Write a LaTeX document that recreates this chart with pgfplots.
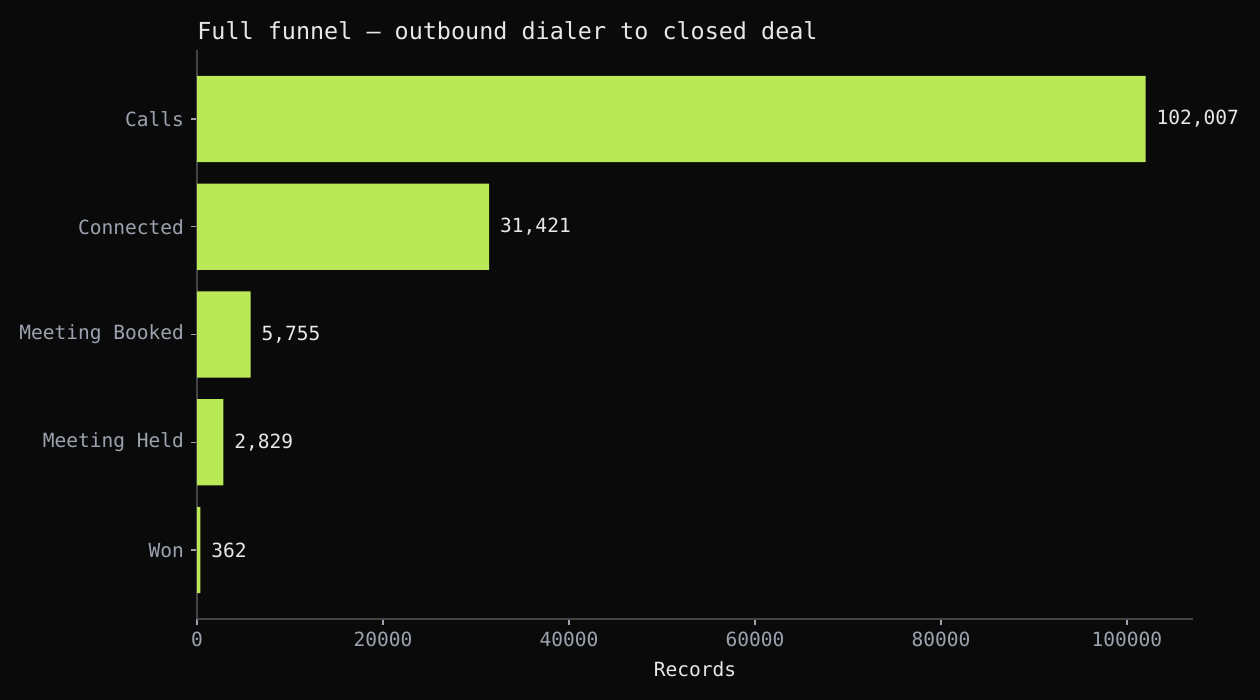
\documentclass[border=0pt]{standalone}
\usepackage{fontspec}
\setmainfont{DejaVu Sans Mono}
\usepackage{pgfplots}
\pgfplotsset{compat=1.18}
\definecolor{bg}{HTML}{0A0A0A}
\definecolor{barc}{HTML}{B9E957}
\definecolor{spine}{HTML}{444444}
\definecolor{ticklab}{HTML}{9CA3AF}
\definecolor{txt}{HTML}{E8E8E8}
\begin{document}
\begin{tikzpicture}
\fill[bg] (0,0) rectangle (630bp,350bp);
\begin{axis}[
  at={(98.5bp,40.5bp)}, anchor=south west,
  scale only axis, width=498bp, height=284.5bp,
  /pgf/number format/assume math mode=true,
  xbar, bar width=0.8,
  xmin=0, xmax=107107, ymin=-0.64, ymax=4.64,
  axis x line*=bottom, axis y line*=left,
  x axis line style={-, spine, line width=0.8pt},
  y axis line style={-, spine, line width=0.8pt},
  ytick={0,1,2,3,4},
  yticklabels={Won,Meeting Held,Meeting Booked,Connected,Calls},
  xtick={0,20000,40000,60000,80000,100000},
  scaled ticks=false,
  xticklabel style={/pgf/number format/.cd, fixed, 1000 sep={}},
  tick align=outside, major tick length=3bp,
  tick style={ticklab, line width=0.6pt},
  ticklabel style={text=ticklab, font=\fontsize{9.8}{12}\selectfont},
  xlabel={Records},
  xlabel style={text=txt, font=\fontsize{9.8}{12}\selectfont, yshift=-0.5bp},
  title={Full funnel — outbound dialer to closed deal},
  title style={at={(axis description cs:0,1)}, anchor=base west, yshift=-0.5bp, text=txt, font=\fontsize{11.75}{14}\selectfont, inner sep=0pt},
  nodes near coords={\pgfmathprintnumber[fixed,precision=0,1000 sep={,}]{\pgfplotspointmeta}},
  nodes near coords style={text=txt, font=\fontsize{9.8}{12}\selectfont, anchor=west, xshift=2bp},
  axis background/.style={fill=bg},
]
\addplot[fill=barc, draw=none] coordinates {(362,0) (2829,1) (5755,2) (31421,3) (102007,4)};
\end{axis}
\pgfresetboundingbox
\path (0,0) rectangle (630bp,350bp);
\end{tikzpicture}
\end{document}
